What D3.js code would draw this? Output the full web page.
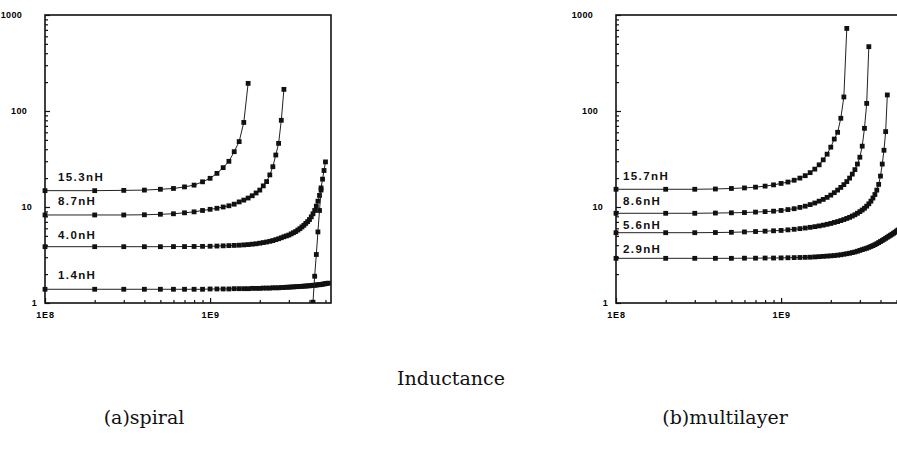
<!DOCTYPE html>
<html><head><meta charset="utf-8">
<script src="https://cdn.jsdelivr.net/npm/d3@7"></script>
<style>body{margin:0;background:#fff}svg{display:block}</style>
</head><body><svg id="c" width="897" height="457"></svg>
<script>
// frequency grid (GHz)
const freqGHz = [0.1,0.2,0.3,0.4,0.5,0.6,0.7,0.8,0.9,1.0,1.1,1.2,1.3,1.4,1.5,1.6,1.7,1.8,1.9,2.0,2.1,2.2,2.3,2.4,2.5,2.6,2.7,2.8,2.9,3.0,3.1,3.2,3.3,3.4,3.5,3.6,3.7,3.8,3.9,4.0,4.1,4.2,4.3,4.4,4.5,4.6,4.7,4.8,4.9,5.0,5.1,5.2,5.3,5.4];

// (a) spiral
const spiralLabels = ["15.3nH","8.7nH","4.0nH","1.4nH"];
const spiral15_3 = [14.8,14.8,14.9,15.0,15.3,15.6,16.2,16.9,18.3,19.9,22.4,25.7,29.9,37.7,48,76,194];
const spiral8_7 = [8.26,8.26,8.26,8.3,8.4,8.5,8.7,8.9,9.2,9.46,9.7,10.0,10.3,10.7,11.3,11.8,12.4,13.1,14.0,15.0,16.6,18.4,21.6,26.3,34.8,46,80,168];
const spiral4_0 = [3.86,3.86,3.86,3.86,3.86,3.87,3.87,3.88,3.89,3.9,3.92,3.94,3.96,3.98,4.0,4.03,4.06,4.1,4.14,4.2,4.26,4.32,4.39,4.47,4.57,4.67,4.78,4.9,5.0,5.1,5.25,5.4,5.55,5.75,5.95,6.2,6.45,6.75,7.05,7.4,7.9,8.5,9.2,10.2,11.5,13.2,15.8,19.5,24,29.5];
const spiral1_4 = [1.39,1.39,1.39,1.39,1.39,1.39,1.39,1.39,1.39,1.40,1.40,1.40,1.40,1.41,1.41,1.41,1.41,1.42,1.42,1.42,1.43,1.43,1.43,1.44,1.44,1.44,1.45,1.45,1.46,1.46,1.47,1.47,1.48,1.48,1.49,1.49,1.50,1.50,1.51,1.51,1.52,1.53,1.53,1.54,1.55,1.55,1.56,1.57,1.58,1.59,1.60,1.61];
const spiralSteepFreqGHz = [4.2,4.3,4.4,4.5,4.6,4.7];
const spiralSteep = [1.02,1.9,3.2,5.5,9.2,15];

// (b) multilayer
const multiLabels = ["15.7nH","8.6nH","5.6nH","2.9nH"];
const multi15_7 = [15.3,15.3,15.3,15.4,15.6,15.8,16.1,16.5,17.0,17.6,18.2,19.0,20.0,21.2,22.8,24.8,27.5,31,35.5,42,51,60,84,140,725];
const multi8_6 = [8.6,8.6,8.6,8.65,8.7,8.75,8.85,8.95,9.05,9.2,9.4,9.6,9.9,10.2,10.6,11.0,11.5,12.0,12.6,13.3,14.1,15.0,16.0,17.1,18.4,20.0,22.0,24.5,28,33,43,66,120,468];
const multi5_6 = [5.4,5.4,5.4,5.42,5.45,5.5,5.55,5.6,5.65,5.7,5.78,5.86,5.95,6.04,6.14,6.24,6.35,6.47,6.6,6.74,6.9,7.05,7.22,7.4,7.6,7.8,8.05,8.3,8.6,8.95,9.3,9.7,10.2,10.8,11.5,12.4,13.5,15,17.2,21,28,39,61,147];
const multi2_9 = [2.92,2.92,2.92,2.92,2.92,2.93,2.93,2.94,2.94,2.95,2.96,2.97,2.98,2.99,3.0,3.02,3.04,3.06,3.08,3.1,3.12,3.15,3.18,3.22,3.26,3.3,3.35,3.4,3.46,3.53,3.6,3.66,3.72,3.8,3.88,3.96,4.05,4.15,4.26,4.37,4.48,4.6,4.72,4.84,4.96,5.08,5.2,5.33,5.46,5.6,5.75,5.9,6.05,6.2];

// axes text
const xTickValues = [1e8, 1e9];
const xTickLabels = ["1E8","1E9"];
const yTickValues = [1, 10, 100, 1000];
const yTickLabels = ["1","10","100","1000"];
const mainCaption = "Inductance";
const panelCaptions = ["(a)spiral","(b)multilayer"];

const svg = d3.select("#c");
const PLOT_TOP = 15, PLOT_BOTTOM = 303;

function toPoints(freqs, vals){ return vals.map((v,i)=>({f:freqs[i]*1e9, v})); }

function drawPanel(id, left, right, seriesList, labels, labelInset, labelLift){
  const x = d3.scaleLog().domain([1e8, 5.4e9]).range([left, right]);
  const y = d3.scaleLog().domain([1, 1000]).range([PLOT_BOTTOM, PLOT_TOP]);
  const g = svg.append("g");

  g.append("clipPath").attr("id","clip"+id).append("rect")
    .attr("x", left-4).attr("y", PLOT_TOP-4).attr("width", right-left+8).attr("height", PLOT_BOTTOM-PLOT_TOP+4);

  const xMinor = [];
  for (let d=1e8; d<=1e9; d*=10) for (let k=2;k<=9;k++){ const v=k*d; if (v<=5.4e9) xMinor.push(v); }
  const yMinor = [];
  for (let d=1; d<1000; d*=10) for (let k=2;k<=9;k++) yMinor.push(k*d);

  const axX = g.append("g").attr("transform",`translate(0,${PLOT_BOTTOM})`)
    .call(d3.axisBottom(x).tickValues(xMinor).tickSize(-3).tickFormat(""));
  const axXM = g.append("g").attr("transform",`translate(0,${PLOT_BOTTOM})`)
    .call(d3.axisBottom(x).tickValues(xTickValues).tickSize(-5).tickPadding(9)
      .tickFormat((d,i)=>xTickLabels[i]));
  const axY = g.append("g").attr("transform",`translate(${left},0)`)
    .call(d3.axisLeft(y).tickValues(yMinor).tickSize(-3).tickFormat(""));
  const axYM = g.append("g").attr("transform",`translate(${left},0)`)
    .call(d3.axisLeft(y).tickValues(yTickValues).tickSize(-5).tickFormat((d,i)=>yTickLabels[i]));
  [axX,axXM,axY,axYM].forEach(a=>{ a.select(".domain").remove(); a.selectAll("line").attr("stroke","#111").attr("stroke-width",1.2); });
  axXM.selectAll("text").attr("font-family","'Liberation Sans', Arial, sans-serif")
    .attr("font-weight","bold").attr("font-size","9px").attr("letter-spacing","0.8px").attr("fill","#000");
  axYM.selectAll("text").attr("font-family","'Liberation Sans', Arial, sans-serif")
    .attr("font-weight","bold").attr("font-size","9px").attr("letter-spacing","0.3px").attr("fill","#000")
    .attr("x", function(){ const n=this.textContent.length; return -(8 + 5*(n-1)); });

  g.append("rect").attr("x",left).attr("y",PLOT_TOP).attr("width",right-left).attr("height",PLOT_BOTTOM-PLOT_TOP)
    .attr("fill","none").attr("stroke","#111").attr("stroke-width",1.6);

  const line = d3.line().x(d=>x(d.f)).y(d=>y(d.v));
  const plot = g.append("g").attr("clip-path",`url(#clip${id})`);
  seriesList.forEach(pts=>{
    plot.append("path").datum(pts).attr("d",line).attr("fill","none").attr("stroke","#222").attr("stroke-width",1);
    plot.selectAll(null).data(pts).enter().append("rect")
      .attr("x",d=>x(d.f)-2.4).attr("y",d=>y(d.v)-2.4).attr("width",4.8).attr("height",4.8).attr("fill","#111");
  });

  labels.forEach((t,i)=>{
    const first = seriesList[i][0];
    g.append("text").attr("x", left + labelInset).attr("y", y(first.v) - labelLift[i])
      .attr("font-family","'Liberation Sans', Arial, sans-serif").attr("font-weight","bold")
      .attr("font-size","11.5px").attr("letter-spacing","1.4px").attr("fill","#111").text(t);
  });
}

drawPanel("a", 45, 331, [
  toPoints(freqGHz, spiral15_3), toPoints(freqGHz, spiral8_7), toPoints(freqGHz, spiral4_0), toPoints(freqGHz, spiral1_4),
  toPoints(spiralSteepFreqGHz, spiralSteep)
], spiralLabels, 13, [10,10,8,10]);

drawPanel("b", 616, 902, [
  toPoints(freqGHz, multi15_7), toPoints(freqGHz, multi8_6), toPoints(freqGHz, multi5_6), toPoints(freqGHz, multi2_9)
], multiLabels, 7, [9,8,4,5]);

const capFont = "'DejaVu Serif', serif";
svg.append("text").attr("x",451).attr("y",385).attr("text-anchor","middle")
  .attr("font-family",capFont).attr("font-size","19px").attr("fill","#111").text(mainCaption);
svg.append("text").attr("x",144).attr("y",424).attr("text-anchor","middle")
  .attr("font-family",capFont).attr("font-size","19px").attr("fill","#111").text(panelCaptions[0]);
svg.append("text").attr("x",725).attr("y",424).attr("text-anchor","middle")
  .attr("font-family",capFont).attr("font-size","19px").attr("fill","#111").text(panelCaptions[1]);
</script></body></html>
